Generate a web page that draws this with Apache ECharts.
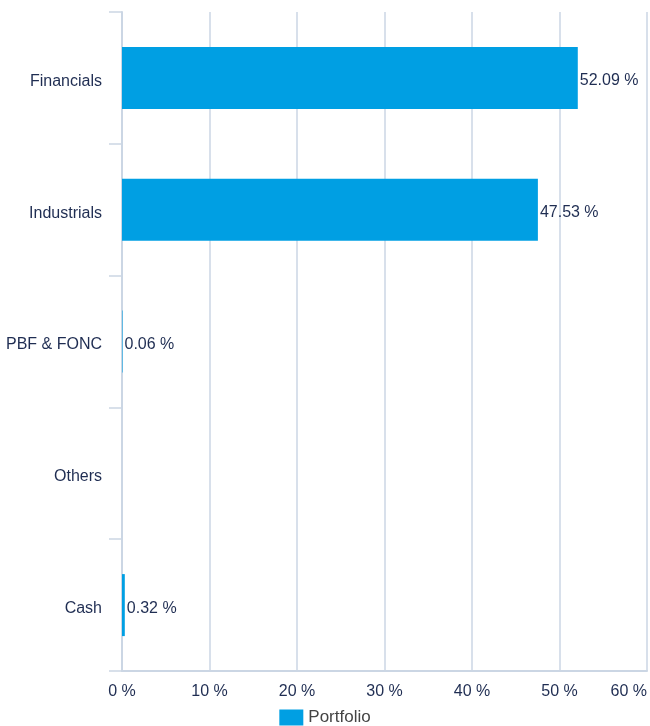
<!DOCTYPE html>
<html>
<head>
<meta charset="utf-8">
<style>
  html, body { margin: 0; padding: 0; background: #fff; }
  #container { width: 650px; height: 726px; }
</style>
<script src="https://cdn.jsdelivr.net/npm/echarts@6/dist/echarts.min.js"></script>
</head>
<body>
<div id="container"></div>
<script>
// data
var categories = ['Financials', 'Industrials', 'PBF & FONC', 'Others', 'Cash'];
var portfolio = [52.09, 47.53, 0.06, null, 0.32];
var seriesName = 'Portfolio';

var textColor = '#1f2d52';
var lineColor = '#cbd6e4';

var dom = document.getElementById('container');
var myChart = echarts.init(dom, null, { renderer: 'canvas' });

var option = {
  animation: false,
  textStyle: { fontFamily: 'Liberation Sans, Arial, sans-serif' },
  grid: { left: 122, right: 1, top: 12, bottom: 55 },
  legend: {
    data: [seriesName],
    left: 'center',
    top: 709,
    padding: 0,
    icon: 'rect',
    itemWidth: 24,
    itemHeight: 16,
    itemGap: 6,
    textStyle: { color: '#444', fontSize: 17 }
  },
  xAxis: {
    type: 'value',
    min: 0,
    max: 60,
    interval: 10,
    axisLine: { show: true, lineStyle: { color: lineColor, width: 2 } },
    axisTick: { show: false },
    splitLine: { show: true, lineStyle: { color: lineColor, width: 1.5 } },
    axisLabel: {
      color: textColor,
      fontSize: 16,
      margin: 13,
      alignMaxLabel: 'right',
      formatter: '{value} %'
    }
  },
  yAxis: {
    type: 'category',
    data: categories,
    inverse: true,
    axisLine: { show: true, lineStyle: { color: lineColor, width: 2 } },
    axisTick: { show: true, length: 13, lineStyle: { color: lineColor, width: 1.5 } },
    axisLabel: {
      margin: 20,
      formatter: '{a|{value}}',
      rich: {
        a: { color: textColor, fontSize: 16, padding: [7, 0, 0, 0] }
      }
    }
  },
  series: [{
    name: seriesName,
    type: 'bar',
    data: portfolio,
    barWidth: 62,
    itemStyle: { color: '#009fe3' },
    label: {
      show: true,
      position: 'right',
      distance: 2,
      offset: [0, 3],
      color: textColor,
      fontSize: 16,
      formatter: function (p) { return p.value.toFixed(2) + ' %'; }
    }
  }]
};

myChart.setOption(option);
window.addEventListener('resize', myChart.resize);
</script>
</body>
</html>
